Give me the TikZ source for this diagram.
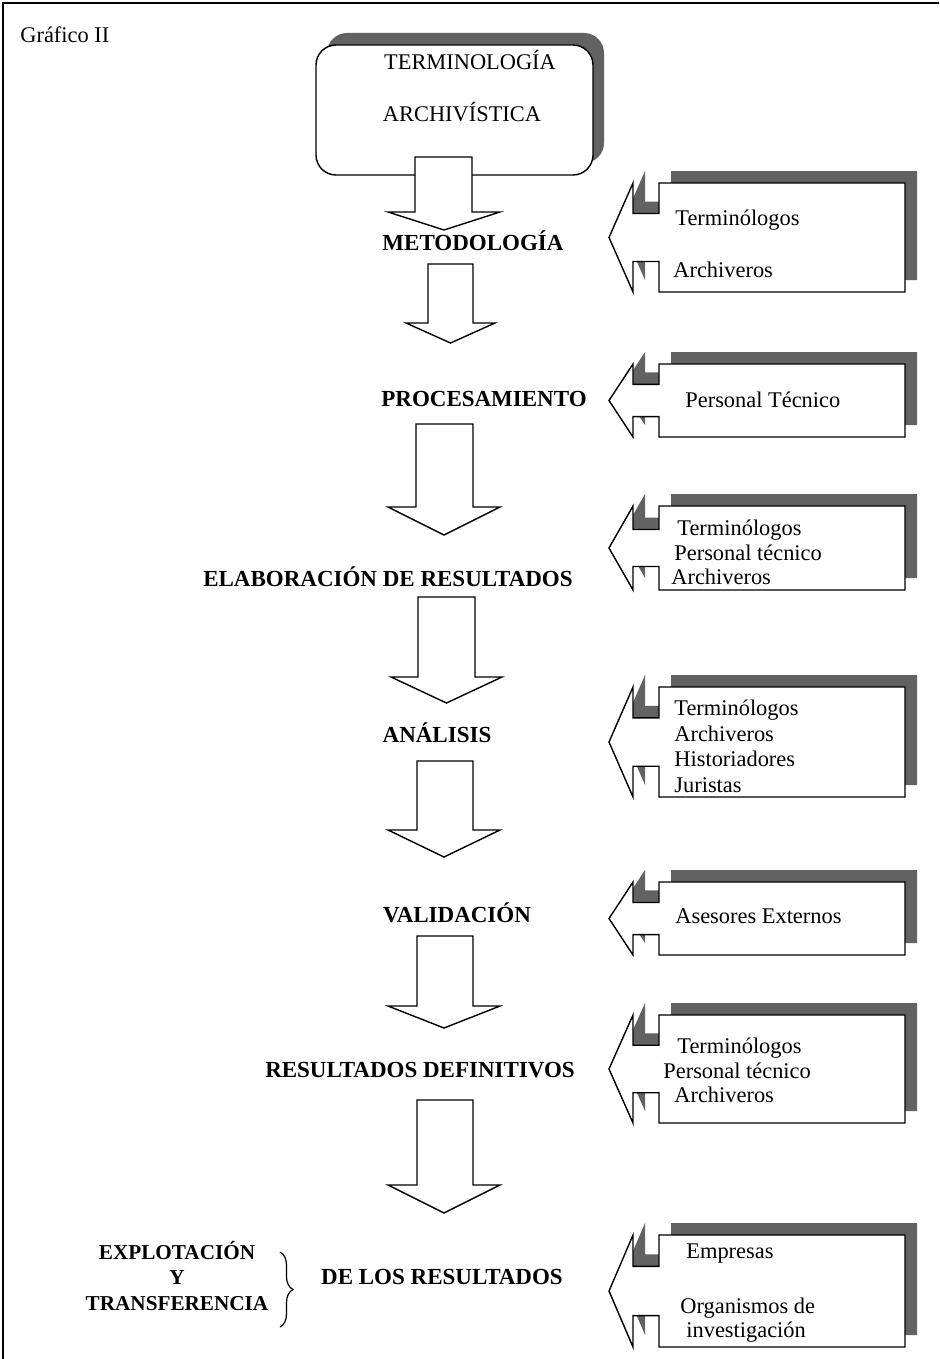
\documentclass[tikz,border=0pt]{standalone}
\usepackage{fontspec}
\setmainfont{Liberation Serif}
\usepackage{tikz}
\usetikzlibrary{positioning,shadows,decorations.pathreplacing}
\definecolor{shadowgrey}{HTML}{626262}

% block arrow pointing down: shaft left/right, top, head base, head left/right, tip
\newcommand{\downblock}[7]{%
  \draw[blockarrow] (#1,#3) -- (#2,#3) -- (#2,#4) -- (#6,#4)
    -- ({(#5+#6)/2},#7) -- (#5,#4) -- (#1,#4) -- cycle;}

% left arrow callout with its shadow: name, top, bottom
\newcommand{\peoplecallout}[3]{%
  \pgfmathsetmacro\calmid{(#2+#3)/2}%
  \pgfmathsetmacro\calhi{\calmid-0.22*(#3-#2)}%
  \pgfmathsetmacro\callo{\calmid+0.22*(#3-#2)}%
  \fill[shadowgrey,shift={(12,-12)}] (609,\calmid) -- (633,#2) -- (633,\calhi)
    -- (659,\calhi) -- (659,#2) -- (905,#2) -- (905,#3) -- (659,#3)
    -- (659,\callo) -- (633,\callo) -- (633,#3) -- cycle;
  \draw[calloutbox] (609,\calmid) -- (633,#2) -- (633,\calhi)
    -- (659,\calhi) -- (659,#2) -- (905,#2) -- (905,#3) -- (659,#3)
    -- (659,\callo) -- (633,\callo) -- (633,#3) -- cycle;
  \coordinate (#1) at (609,\calmid);}

\begin{document}
\begin{tikzpicture}[x=0.5pt,y=-0.5pt,font=\fontsize{11.2}{13}\selectfont,
  blockarrow/.style={draw,fill=white,line width=0.7pt},
  calloutbox/.style={draw,fill=white,line width=0.7pt},
  stagelabel/.style={anchor=base,inner sep=0pt,font=\fontsize{11.5}{13}\selectfont\bfseries},
  sidelabel/.style={anchor=base,inner sep=0pt,font=\fontsize{10.6}{13}\selectfont\bfseries},
  people/.style={anchor=base west,inner sep=0pt},
  topbox/.style={draw,fill=white,line width=0.7pt,rounded corners=10pt,
    minimum width=138.5pt,minimum height=65pt,
    general shadow={shadow xshift=5.5pt,shadow yshift=6pt,fill=shadowgrey}}]
  \useasboundingbox (0,0) rectangle (939,1359);

  % Frame
  \draw[line width=0.6pt] (3,1359) -- (3,3) -- (939,3);
  \node[people] (title) at (20,43) {Gráfico II};

  % Starting box
  \node[topbox] (termbox) at (454.5,110) {};
  \node[anchor=base,inner sep=0pt] (termA) at (470,70) {TERMINOLOGÍA};
  \node[anchor=base,inner sep=0pt] (termB) at (462,121) {ARCHIVÍSTICA};
  \downblock{415}{472}{157}{212}{388}{500}{230}

  % Metodologia
  \node[stagelabel] (metod) at (473,250) {METODOLOGÍA};
  \peoplecallout{cmetod}{183}{292}
  \node[people] (metodA) at (675,225) {Terminólogos};
  \node[people] (metodB) at (673,277) {Archiveros};
  \downblock{428}{473}{264}{323}{406}{495}{343}

  % Procesamiento
  \node[stagelabel] (proces) at (484,406) {PROCESAMIENTO};
  \peoplecallout{cproces}{364}{437}
  \node[people] (procesA) at (685,407) {Personal Técnico};
  \downblock{416}{473}{424}{507}{388}{500}{535}

  % Elaboracion de resultados
  \node[stagelabel] (elab) at (388,586) {ELABORACIÓN DE RESULTADOS};
  \peoplecallout{celab}{506}{590}
  \node[people] (elabA) at (677,535) {Terminólogos};
  \node[people] (elabB) at (674,560) {Personal técnico};
  \node[people] (elabC) at (671,584) {Archiveros};
  \downblock{418}{475}{597}{677}{391}{502}{703}

  % Analisis
  \node[stagelabel] (anal) at (437,742) {ANÁLISIS};
  \peoplecallout{canal}{687}{797}
  \node[people] (analA) at (674,715) {Terminólogos};
  \node[people] (analB) at (674,741) {Archiveros};
  \node[people] (analC) at (674,766) {Historiadores};
  \node[people] (analD) at (674,792) {Juristas};
  \downblock{417}{473}{761}{830}{388}{500}{857}

  % Validacion
  \node[stagelabel] (valid) at (457,922) {VALIDACIÓN};
  \peoplecallout{cvalid}{882}{955}
  \node[people] (validA) at (675,923) {Asesores Externos};
  \downblock{417}{473}{936}{1006}{388}{500}{1028}

  % Resultados definitivos
  \node[stagelabel] (resdef) at (420,1077) {RESULTADOS DEFINITIVOS};
  \peoplecallout{cresdef}{1015}{1123}
  \node[people] (resdefA) at (677,1053) {Terminólogos};
  \node[people] (resdefB) at (663,1078) {Personal técnico};
  \node[people] (resdefC) at (674,1102) {Archiveros};
  \downblock{417}{473}{1100}{1185}{388}{500}{1213}

  % Explotacion y transferencia
  \node[sidelabel] (explA) at (177,1259) {EXPLOTACIÓN};
  \node[sidelabel] (explB) at (177,1284) {Y};
  \node[sidelabel] (explC) at (177,1310) {TRANSFERENCIA};
  \draw[decorate,decoration={brace,amplitude=6.5pt},line width=0.6pt]
    (280,1252) -- (280,1327);
  \node[stagelabel] (deres) at (442,1284) {DE LOS RESULTADOS};
  \peoplecallout{cderes}{1235}{1347}
  \node[people] (deresA) at (686,1258) {Empresas};
  \node[people] (deresB) at (680,1313) {Organismos de};
  \node[people] (deresC) at (686,1337) {investigación};
\end{tikzpicture}
\end{document}
